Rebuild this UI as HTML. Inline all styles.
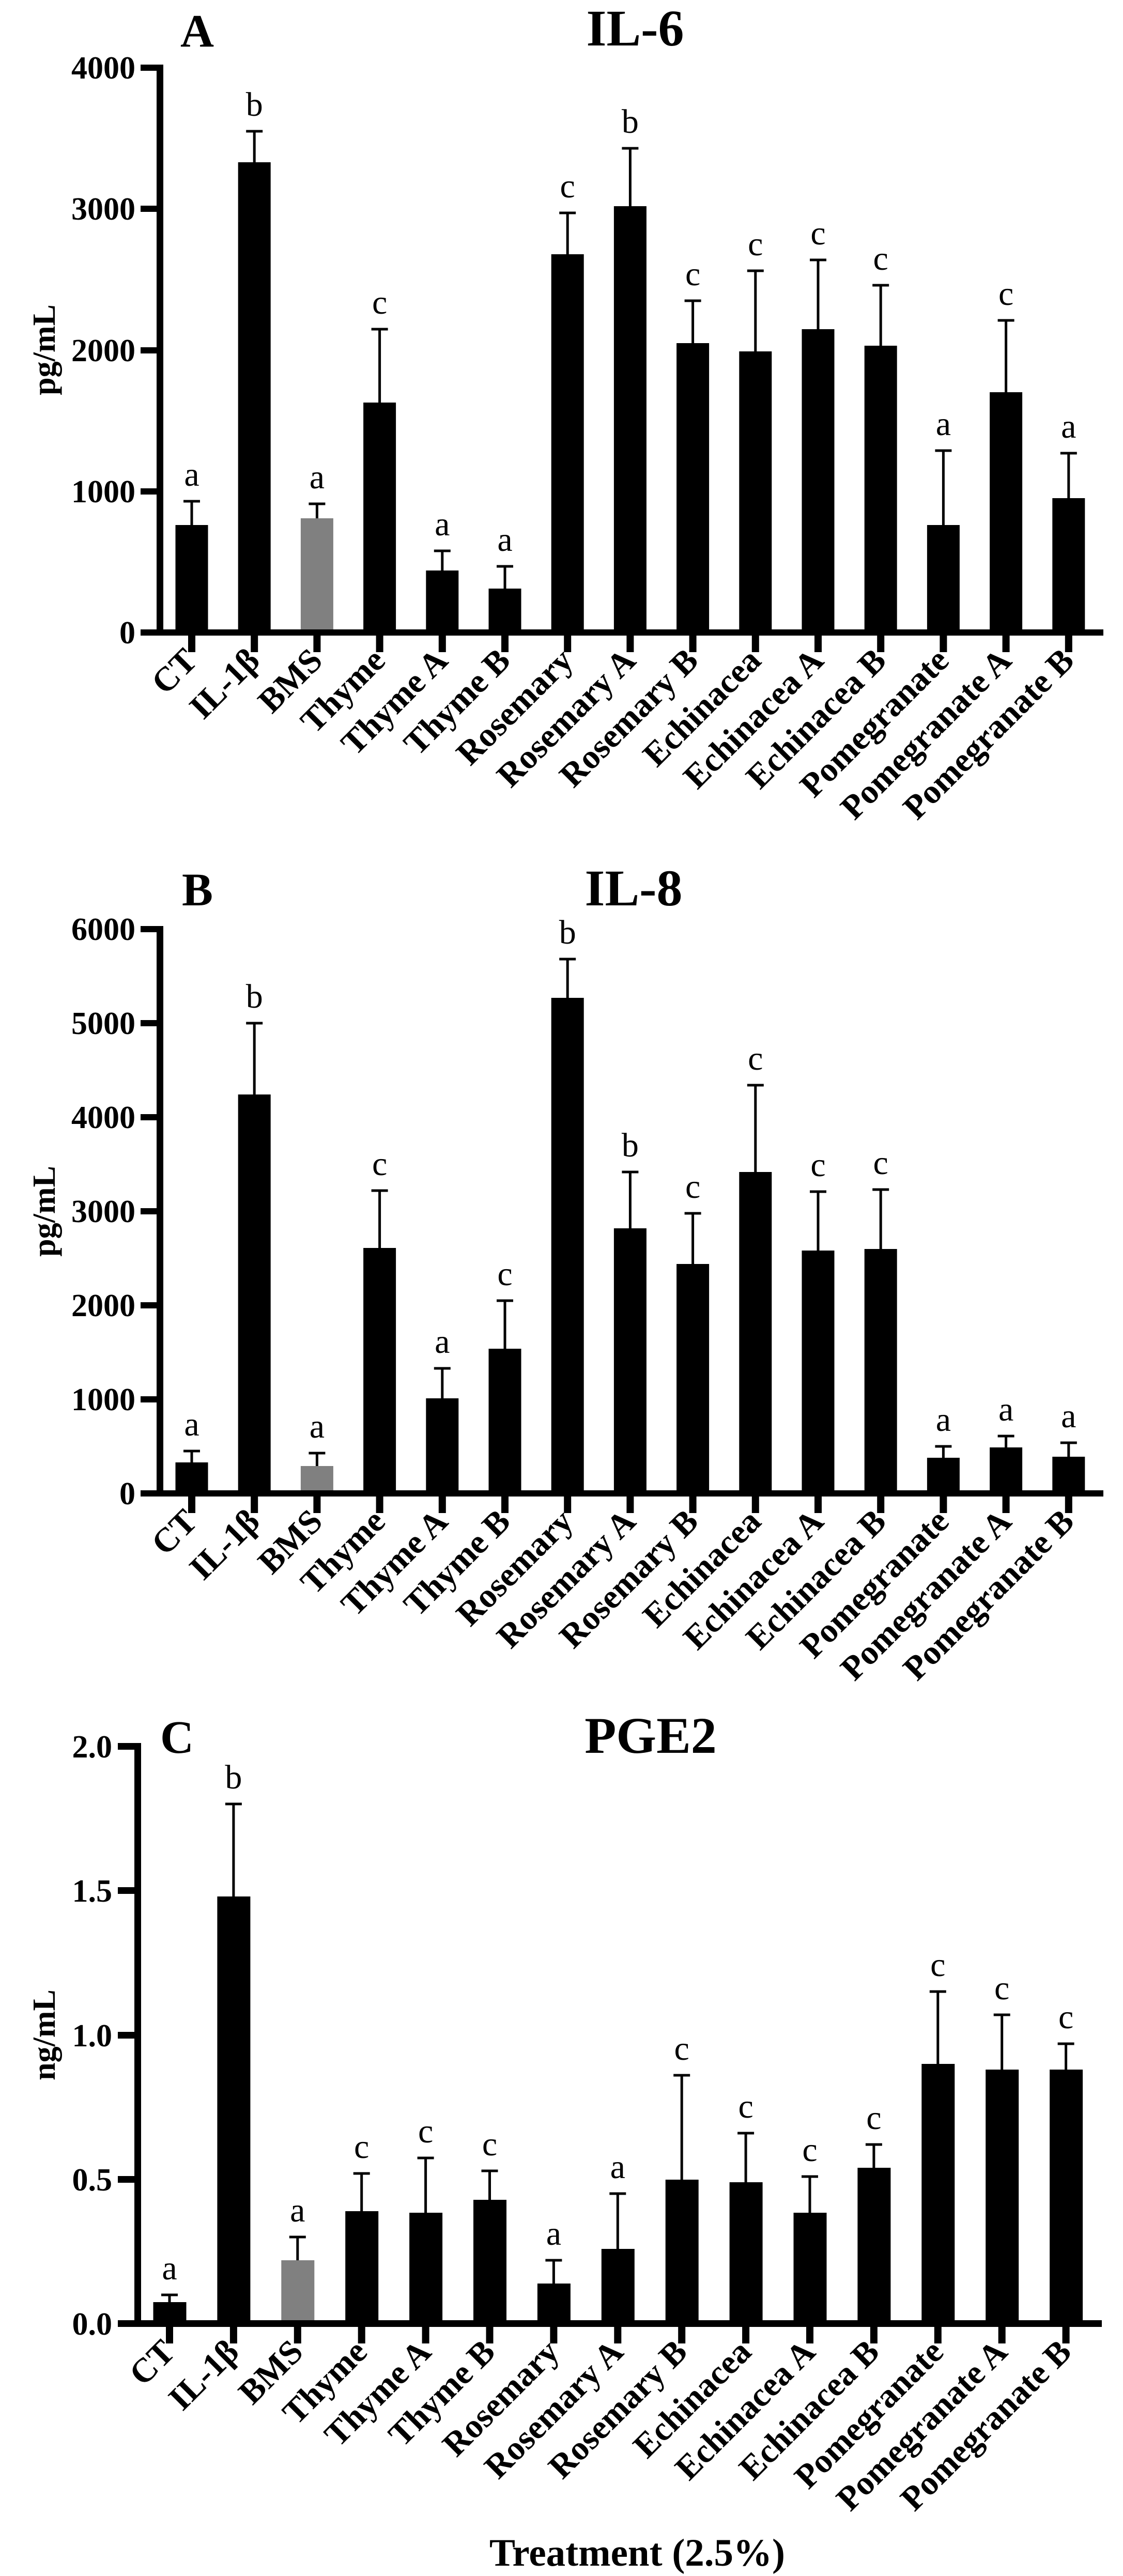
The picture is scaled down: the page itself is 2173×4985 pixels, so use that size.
<!DOCTYPE html>
<html><head><meta charset="utf-8"><style>
html,body{margin:0;padding:0;background:#fff;}
svg{display:block;}
text{font-family:"Liberation Serif","Times New Roman",serif;fill:#000;}
.t{font-weight:bold;font-size:62px;}
.xl{font-weight:bold;font-size:66px;}
.l{font-size:66px;}
.ti{font-weight:bold;font-size:100px;}
.pl{font-weight:bold;font-size:90px;}
.yl{font-weight:bold;font-size:62px;}
</style></head><body>
<svg width="2173" height="4985" viewBox="0 0 2173 4985" xmlns="http://www.w3.org/2000/svg">
<g id="A">
<text class="pl" x="349" y="90">A</text>
<text class="ti" x="1229" y="88" text-anchor="middle">IL-6</text>
<text class="yl" transform="translate(106,677) rotate(-90)" text-anchor="middle">pg/mL</text>
<g fill="#000">
<rect x="339.5" y="1016" width="63" height="208"/>
<rect x="460.7" y="314" width="63" height="910"/>
<rect x="581.9" y="1003" width="63" height="221" fill="#808080"/>
<rect x="703.1" y="779" width="63" height="445"/>
<rect x="824.3" y="1104" width="63" height="120"/>
<rect x="945.5" y="1139" width="63" height="85"/>
<rect x="1066.7" y="492" width="63" height="732"/>
<rect x="1187.9" y="399" width="63" height="825"/>
<rect x="1309.1" y="664" width="63" height="560"/>
<rect x="1430.3" y="680" width="63" height="544"/>
<rect x="1551.5" y="637" width="63" height="587"/>
<rect x="1672.7" y="669" width="63" height="555"/>
<rect x="1793.9" y="1016" width="63" height="208"/>
<rect x="1915.1" y="759" width="63" height="465"/>
<rect x="2036.3" y="964" width="63" height="260"/>
</g>
<g stroke="#000" stroke-width="5">
<path d="M371 1016V970M355 970H387"/>
<path d="M492.2 314V254M476.2 254H508.2"/>
<path d="M613.4 1003V975M597.4 975H629.4"/>
<path d="M734.6 779V637M718.6 637H750.6"/>
<path d="M855.8 1104V1066M839.8 1066H871.8"/>
<path d="M977 1139V1096M961 1096H993"/>
<path d="M1098.2 492V412M1082.2 412H1114.2"/>
<path d="M1219.4 399V287M1203.4 287H1235.4"/>
<path d="M1340.6 664V582M1324.6 582H1356.6"/>
<path d="M1461.8 680V524M1445.8 524H1477.8"/>
<path d="M1583 637V503M1567 503H1599"/>
<path d="M1704.2 669V552M1688.2 552H1720.2"/>
<path d="M1825.4 1016V872M1809.4 872H1841.4"/>
<path d="M1946.6 759V620M1930.6 620H1962.6"/>
<path d="M2067.8 964V877M2051.8 877H2083.8"/>
</g>
<g class="l" text-anchor="middle">
<text x="371" y="940">a</text><text x="492.2" y="224">b</text><text x="613.4" y="945">a</text>
<text x="734.6" y="607">c</text><text x="855.8" y="1036">a</text><text x="977" y="1066">a</text>
<text x="1098.2" y="382">c</text><text x="1219.4" y="257">b</text><text x="1340.6" y="552">c</text>
<text x="1461.8" y="494">c</text><text x="1583" y="473">c</text><text x="1704.2" y="522">c</text>
<text x="1825.4" y="842">a</text><text x="1946.6" y="590">c</text><text x="2067.8" y="847">a</text>
</g>
<rect x="303" y="125" width="13" height="1105"/>
<rect x="272" y="1218" width="1863" height="12"/>
<g>
<rect x="272" y="125" width="40" height="12"/><rect x="272" y="398" width="40" height="12"/>
<rect x="272" y="672" width="40" height="12"/><rect x="272" y="945" width="40" height="12"/>
</g>
<g class="t" text-anchor="end">
<text x="262" y="152">4000</text><text x="262" y="425">3000</text><text x="262" y="699">2000</text>
<text x="262" y="972">1000</text><text x="262" y="1245">0</text>
</g>
<g>
<rect x="364" y="1230" width="14" height="32"/><rect x="485.2" y="1230" width="14" height="32"/><rect x="606.4" y="1230" width="14" height="32"/>
<rect x="727.6" y="1230" width="14" height="32"/><rect x="848.8" y="1230" width="14" height="32"/><rect x="970" y="1230" width="14" height="32"/>
<rect x="1091.2" y="1230" width="14" height="32"/><rect x="1212.4" y="1230" width="14" height="32"/><rect x="1333.6" y="1230" width="14" height="32"/>
<rect x="1454.8" y="1230" width="14" height="32"/><rect x="1576" y="1230" width="14" height="32"/><rect x="1697.2" y="1230" width="14" height="32"/>
<rect x="1818.4" y="1230" width="14" height="32"/><rect x="1939.6" y="1230" width="14" height="32"/><rect x="2060.8" y="1230" width="14" height="32"/>
</g>
<g class="xl" text-anchor="end">
<text transform="translate(385,1282) rotate(-45)">CT</text>
<text transform="translate(506.2,1282) rotate(-45)">IL-1β</text>
<text transform="translate(627.4,1282) rotate(-45)">BMS</text>
<text transform="translate(748.6,1282) rotate(-45)">Thyme</text>
<text transform="translate(869.8,1282) rotate(-45)">Thyme A</text>
<text transform="translate(991,1282) rotate(-45)">Thyme B</text>
<text transform="translate(1112.2,1282) rotate(-45)">Rosemary</text>
<text transform="translate(1233.4,1282) rotate(-45)">Rosemary A</text>
<text transform="translate(1354.6,1282) rotate(-45)">Rosemary B</text>
<text transform="translate(1475.8,1282) rotate(-45)">Echinacea</text>
<text transform="translate(1597,1282) rotate(-45)">Echinacea A</text>
<text transform="translate(1718.2,1282) rotate(-45)">Echinacea B</text>
<text transform="translate(1839.4,1282) rotate(-45)">Pomegranate</text>
<text transform="translate(1960.6,1282) rotate(-45)">Pomegranate A</text>
<text transform="translate(2081.8,1282) rotate(-45)">Pomegranate B</text>
</g>
</g>

<g id="B">
<text class="pl" x="352" y="1752">B</text>
<text class="ti" x="1226" y="1752" text-anchor="middle">IL-8</text>
<text class="yl" transform="translate(106,2344) rotate(-90)" text-anchor="middle">pg/mL</text>
<g fill="#000">
<rect x="339.5" y="2830" width="63" height="60"/>
<rect x="460.7" y="2118" width="63" height="772"/>
<rect x="581.9" y="2837" width="63" height="53" fill="#808080"/>
<rect x="703.1" y="2415" width="63" height="475"/>
<rect x="824.3" y="2706" width="63" height="184"/>
<rect x="945.5" y="2610" width="63" height="280"/>
<rect x="1066.7" y="1931" width="63" height="959"/>
<rect x="1187.9" y="2377" width="63" height="513"/>
<rect x="1309.1" y="2446" width="63" height="444"/>
<rect x="1430.3" y="2268" width="63" height="622"/>
<rect x="1551.5" y="2420" width="63" height="470"/>
<rect x="1672.7" y="2417" width="63" height="473"/>
<rect x="1793.9" y="2821" width="63" height="69"/>
<rect x="1915.1" y="2801" width="63" height="89"/>
<rect x="2036.3" y="2819" width="63" height="71"/>
</g>
<g stroke="#000" stroke-width="5">
<path d="M371 2830V2808M355 2808H387"/>
<path d="M492.2 2118V1980M476.2 1980H508.2"/>
<path d="M613.4 2837V2812M597.4 2812H629.4"/>
<path d="M734.6 2415V2304M718.6 2304H750.6"/>
<path d="M855.8 2706V2648M839.8 2648H871.8"/>
<path d="M977 2610V2517M961 2517H993"/>
<path d="M1098.2 1931V1856M1082.2 1856H1114.2"/>
<path d="M1219.4 2377V2268M1203.4 2268H1235.4"/>
<path d="M1340.6 2446V2348M1324.6 2348H1356.6"/>
<path d="M1461.8 2268V2100M1445.8 2100H1477.8"/>
<path d="M1583 2420V2306M1567 2306H1599"/>
<path d="M1704.2 2417V2302M1688.2 2302H1720.2"/>
<path d="M1825.4 2821V2799M1809.4 2799H1841.4"/>
<path d="M1946.6 2801V2779M1930.6 2779H1962.6"/>
<path d="M2067.8 2819V2792M2051.8 2792H2083.8"/>
</g>
<g class="l" text-anchor="middle">
<text x="371" y="2778">a</text><text x="492.2" y="1950">b</text><text x="613.4" y="2782">a</text>
<text x="734.6" y="2274">c</text><text x="855.8" y="2618">a</text><text x="977" y="2487">c</text>
<text x="1098.2" y="1826">b</text><text x="1219.4" y="2238">b</text><text x="1340.6" y="2318">c</text>
<text x="1461.8" y="2070">c</text><text x="1583" y="2276">c</text><text x="1704.2" y="2272">c</text>
<text x="1825.4" y="2769">a</text><text x="1946.6" y="2749">a</text><text x="2067.8" y="2762">a</text>
</g>
<rect x="303" y="1792" width="13" height="1104"/>
<rect x="272" y="2884" width="1863" height="12"/>
<g>
<rect x="272" y="1792" width="40" height="12"/><rect x="272" y="1974" width="40" height="12"/>
<rect x="272" y="2156" width="40" height="12"/><rect x="272" y="2338" width="40" height="12"/>
<rect x="272" y="2520" width="40" height="12"/><rect x="272" y="2702" width="40" height="12"/>
</g>
<g class="t" text-anchor="end">
<text x="262" y="1819">6000</text><text x="262" y="2001">5000</text><text x="262" y="2183">4000</text>
<text x="262" y="2365">3000</text><text x="262" y="2547">2000</text><text x="262" y="2729">1000</text>
<text x="262" y="2911">0</text>
</g>
<g>
<rect x="364" y="2896" width="14" height="32"/><rect x="485.2" y="2896" width="14" height="32"/><rect x="606.4" y="2896" width="14" height="32"/>
<rect x="727.6" y="2896" width="14" height="32"/><rect x="848.8" y="2896" width="14" height="32"/><rect x="970" y="2896" width="14" height="32"/>
<rect x="1091.2" y="2896" width="14" height="32"/><rect x="1212.4" y="2896" width="14" height="32"/><rect x="1333.6" y="2896" width="14" height="32"/>
<rect x="1454.8" y="2896" width="14" height="32"/><rect x="1576" y="2896" width="14" height="32"/><rect x="1697.2" y="2896" width="14" height="32"/>
<rect x="1818.4" y="2896" width="14" height="32"/><rect x="1939.6" y="2896" width="14" height="32"/><rect x="2060.8" y="2896" width="14" height="32"/>
</g>
<g class="xl" text-anchor="end">
<text transform="translate(385,2948) rotate(-45)">CT</text>
<text transform="translate(506.2,2948) rotate(-45)">IL-1β</text>
<text transform="translate(627.4,2948) rotate(-45)">BMS</text>
<text transform="translate(748.6,2948) rotate(-45)">Thyme</text>
<text transform="translate(869.8,2948) rotate(-45)">Thyme A</text>
<text transform="translate(991,2948) rotate(-45)">Thyme B</text>
<text transform="translate(1112.2,2948) rotate(-45)">Rosemary</text>
<text transform="translate(1233.4,2948) rotate(-45)">Rosemary A</text>
<text transform="translate(1354.6,2948) rotate(-45)">Rosemary B</text>
<text transform="translate(1475.8,2948) rotate(-45)">Echinacea</text>
<text transform="translate(1597,2948) rotate(-45)">Echinacea A</text>
<text transform="translate(1718.2,2948) rotate(-45)">Echinacea B</text>
<text transform="translate(1839.4,2948) rotate(-45)">Pomegranate</text>
<text transform="translate(1960.6,2948) rotate(-45)">Pomegranate A</text>
<text transform="translate(2081.8,2948) rotate(-45)">Pomegranate B</text>
</g>
</g>

<g id="C">
<text class="pl" x="310" y="3392">C</text>
<text class="ti" x="1259" y="3392" text-anchor="middle">PGE2</text>
<text class="yl" transform="translate(106,3938) rotate(-90)" text-anchor="middle">ng/mL</text>
<g fill="#000">
<rect x="296.5" y="4455" width="64" height="42"/>
<rect x="420.4" y="3670" width="64" height="827"/>
<rect x="544.3" y="4374" width="64" height="123" fill="#808080"/>
<rect x="668.2" y="4279" width="64" height="218"/>
<rect x="792.1" y="4282" width="64" height="215"/>
<rect x="916" y="4257" width="64" height="240"/>
<rect x="1039.9" y="4419" width="64" height="78"/>
<rect x="1163.8" y="4352" width="64" height="145"/>
<rect x="1287.7" y="4218" width="64" height="279"/>
<rect x="1411.6" y="4223" width="64" height="274"/>
<rect x="1535.5" y="4282" width="64" height="215"/>
<rect x="1659.4" y="4195" width="64" height="302"/>
<rect x="1783.3" y="3994" width="64" height="503"/>
<rect x="1907.2" y="4005" width="64" height="492"/>
<rect x="2031.1" y="4005" width="64" height="492"/>
</g>
<g stroke="#000" stroke-width="5">
<path d="M328 4455V4441M312 4441H344"/>
<path d="M451.9 3670V3491M435.9 3491H467.9"/>
<path d="M575.8 4374V4329M559.8 4329H591.8"/>
<path d="M699.7 4279V4206M683.7 4206H715.7"/>
<path d="M823.6 4282V4176M807.6 4176H839.6"/>
<path d="M947.5 4257V4201M931.5 4201H963.5"/>
<path d="M1071.4 4419V4374M1055.4 4374H1087.4"/>
<path d="M1195.3 4352V4245M1179.3 4245H1211.3"/>
<path d="M1319.2 4218V4016M1303.2 4016H1335.2"/>
<path d="M1443.1 4223V4128M1427.1 4128H1459.1"/>
<path d="M1567 4282V4212M1551 4212H1583"/>
<path d="M1690.9 4195V4150M1674.9 4150H1706.9"/>
<path d="M1814.8 3994V3854M1798.8 3854H1830.8"/>
<path d="M1938.7 4005V3899M1922.7 3899H1954.7"/>
<path d="M2062.6 4005V3955M2046.6 3955H2078.6"/>
</g>
<g class="l" text-anchor="middle">
<text x="328" y="4411">a</text><text x="451.9" y="3461">b</text><text x="575.8" y="4299">a</text>
<text x="699.7" y="4176">c</text><text x="823.6" y="4146">c</text><text x="947.5" y="4171">c</text>
<text x="1071.4" y="4344">a</text><text x="1195.3" y="4215">a</text><text x="1319.2" y="3986">c</text>
<text x="1443.1" y="4098">c</text><text x="1567" y="4182">c</text><text x="1690.9" y="4120">c</text>
<text x="1814.8" y="3824">c</text><text x="1938.7" y="3869">c</text><text x="2062.6" y="3925">c</text>
</g>
<rect x="260" y="3373" width="13" height="1130"/>
<rect x="228" y="4490" width="1904" height="13"/>
<g>
<rect x="228" y="3373" width="40" height="13"/><rect x="228" y="3652" width="40" height="13"/>
<rect x="228" y="3932" width="40" height="13"/><rect x="228" y="4211" width="40" height="13"/>
</g>
<g class="t" text-anchor="end">
<text x="217" y="3401">2.0</text><text x="217" y="3680">1.5</text><text x="217" y="3960">1.0</text>
<text x="217" y="4239">0.5</text><text x="217" y="4518">0.0</text>
</g>
<g>
<rect x="321" y="4503" width="14" height="32"/><rect x="444.9" y="4503" width="14" height="32"/><rect x="568.8" y="4503" width="14" height="32"/>
<rect x="692.7" y="4503" width="14" height="32"/><rect x="816.6" y="4503" width="14" height="32"/><rect x="940.5" y="4503" width="14" height="32"/>
<rect x="1064.4" y="4503" width="14" height="32"/><rect x="1188.3" y="4503" width="14" height="32"/><rect x="1312.2" y="4503" width="14" height="32"/>
<rect x="1436.1" y="4503" width="14" height="32"/><rect x="1560" y="4503" width="14" height="32"/><rect x="1683.9" y="4503" width="14" height="32"/>
<rect x="1807.8" y="4503" width="14" height="32"/><rect x="1931.7" y="4503" width="14" height="32"/><rect x="2055.6" y="4503" width="14" height="32"/>
</g>
<g class="xl" text-anchor="end">
<text transform="translate(342,4555) rotate(-45)">CT</text>
<text transform="translate(465.9,4555) rotate(-45)">IL-1β</text>
<text transform="translate(589.8,4555) rotate(-45)">BMS</text>
<text transform="translate(713.7,4555) rotate(-45)">Thyme</text>
<text transform="translate(837.6,4555) rotate(-45)">Thyme A</text>
<text transform="translate(961.5,4555) rotate(-45)">Thyme B</text>
<text transform="translate(1085.4,4555) rotate(-45)">Rosemary</text>
<text transform="translate(1209.3,4555) rotate(-45)">Rosemary A</text>
<text transform="translate(1333.2,4555) rotate(-45)">Rosemary B</text>
<text transform="translate(1457.1,4555) rotate(-45)">Echinacea</text>
<text transform="translate(1581,4555) rotate(-45)">Echinacea A</text>
<text transform="translate(1704.9,4555) rotate(-45)">Echinacea B</text>
<text transform="translate(1828.8,4555) rotate(-45)">Pomegranate</text>
<text transform="translate(1952.7,4555) rotate(-45)">Pomegranate A</text>
<text transform="translate(2076.6,4555) rotate(-45)">Pomegranate B</text>
</g>
<text x="1233" y="4965" text-anchor="middle" style="font-weight:bold;font-size:75px;">Treatment (2.5%)</text>
</g>
</svg>
</body></html>
